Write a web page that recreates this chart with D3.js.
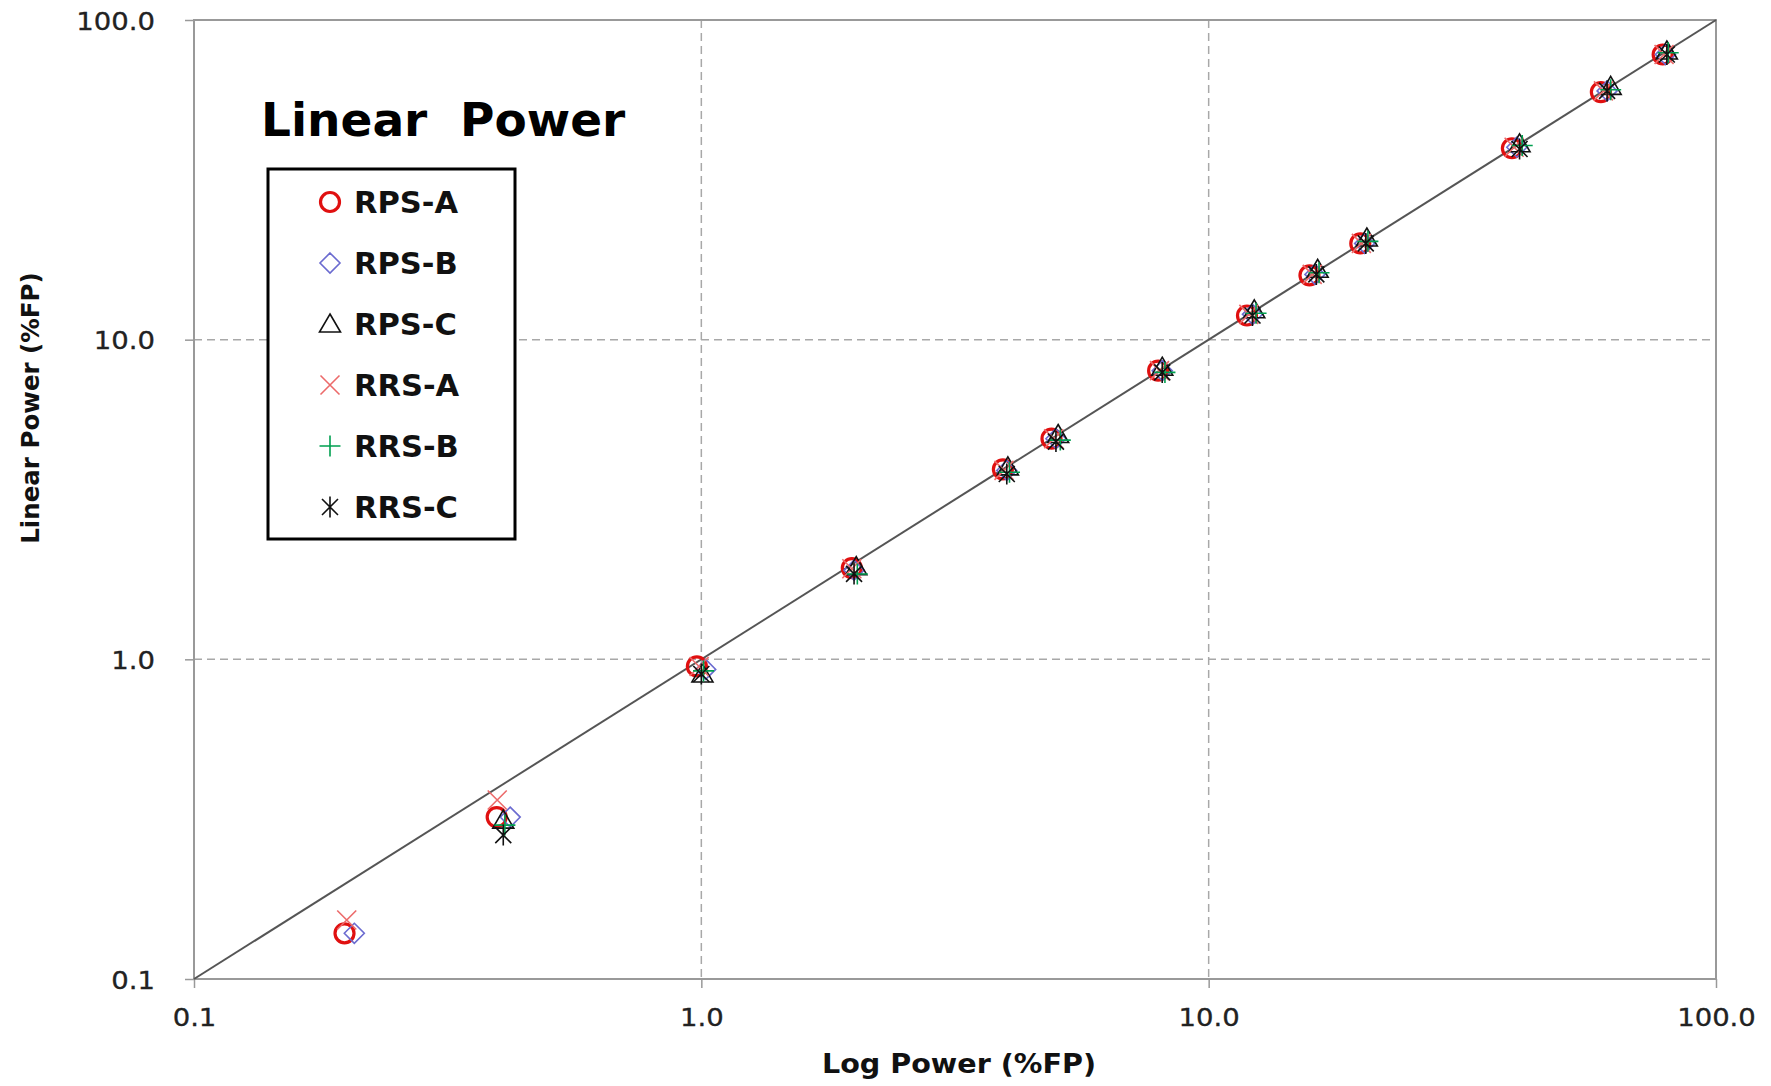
<!DOCTYPE html>
<html><head><meta charset="utf-8">
<script src="https://cdn.jsdelivr.net/npm/d3@7"></script>
<style>body{margin:0;background:#fff} svg{display:block}</style>
</head>
<body><svg id="c" width="1771" height="1086"></svg>
<script>
// ---------- data ----------
const seriesNames = ["RPS-A","RPS-B","RPS-C","RRS-A","RRS-B","RRS-C"];
// Log Power (%FP) per series
const rpsA_x = [0.198,0.395,0.980,1.98,3.93,4.90,7.95,11.9,15.8,19.9,39.6,59.3,78.5];
const rpsB_x = [0.207,0.420,1.020,2.00,4.00,5.00,8.10,12.2,16.2,20.3,40.5,61.0,79.5];
const rpsC_x = [null, 0.407,1.005,2.02,4.02,5.05,8.10,12.3,16.4,20.5,41.0,62.0,80.0];
const rrsA_x = [0.200,0.396,0.990,1.98,3.95,4.95,8.00,12.0,16.0,20.0,40.0,60.0,79.0];
const rrsB_x = [null, 0.410,1.010,2.03,4.05,5.10,8.20,12.4,16.5,20.6,41.5,62.0,80.5];
const rrsC_x = [null, 0.407,1.000,2.00,4.00,5.00,8.10,12.2,16.3,20.4,41.0,61.0,80.0];
// Linear Power (%FP) per series
const rpsA_y = [0.139,0.321,0.950,1.93,3.93,4.90,8.00,11.9,15.9,20.0,39.7,59.5,78.0];
const rpsB_y = [0.139,0.321,0.930,1.90,3.90,4.90,8.00,12.0,16.0,20.0,40.0,60.0,78.0];
const rpsC_y = [null, 0.314,0.900,1.95,4.00,5.05,8.20,12.4,16.6,20.8,41.0,62.0,80.0];
const rrsA_y = [0.153,0.363,0.950,1.92,3.90,4.90,8.00,12.0,16.0,20.0,40.0,60.0,78.0];
const rrsB_y = [null, 0.303,0.920,1.85,3.85,4.85,7.90,12.1,16.2,20.3,40.5,60.5,79.0];
const rrsC_y = [null, 0.282,0.900,1.85,3.80,4.80,7.90,11.9,16.0,20.0,39.5,60.0,78.0];
const xTicks = [0.1,1,10,100];
const yTicks = [0.1,1,10,100];
const xTickLabels = ["0.1","1.0","10.0","100.0"];
const yTickLabels = ["0.1","1.0","10.0","100.0"];
const gridValues = [1,10];
const diagLine = [0.1,100];
const titleText = "Linear  Power";
const xTitle = "Log Power (%FP)";
const yTitle = "Linear Power (%FP)";

// ---------- layout ----------
const L = 194, R = 1716, T = 20, B = 979;
const svg = d3.select("#c");
const x = d3.scaleLog().domain([0.1,100]).range([L,R]);
const y = d3.scaleLog().domain([0.1,100]).range([B,T]);
const font = "'DejaVu Sans', sans-serif";

// grid
const grid = svg.append("g").attr("stroke","#a8a8a8").attr("stroke-width",1.5).attr("stroke-dasharray","8,5");
grid.selectAll("line.v").data(gridValues).join("line").attr("class","v")
  .attr("x1",d=>x(d)).attr("x2",d=>x(d)).attr("y1",T).attr("y2",B);
grid.selectAll("line.h").data(gridValues).join("line").attr("class","h")
  .attr("y1",d=>y(d)).attr("y2",d=>y(d)).attr("x1",L).attr("x2",R);

// frame
svg.append("rect").attr("x",L).attr("y",T).attr("width",R-L).attr("height",B-T)
  .attr("fill","none").attr("stroke","#999").attr("stroke-width",2);

// axes
const xAxis = svg.append("g").attr("transform",`translate(0,${B})`)
  .call(d3.axisBottom(x).tickValues(xTicks).tickFormat((d,i)=>xTickLabels[i]).tickSizeInner(9).tickSizeOuter(0));
const yAxis = svg.append("g").attr("transform",`translate(${L},0)`)
  .call(d3.axisLeft(y).tickValues(yTicks).tickFormat((d,i)=>yTickLabels[i]).tickSizeInner(9).tickSizeOuter(0));
[xAxis,yAxis].forEach(a=>{
  a.select(".domain").remove();
  a.selectAll(".tick line").attr("stroke","#999").attr("stroke-width",1.5);
  a.selectAll(".tick text").attr("font-family",font).attr("font-size",25).attr("fill","#222")
    .attr("stroke","#222").attr("stroke-width",0.3);
});
xAxis.selectAll(".tick text").attr("y",0).attr("dy",0).attr("text-anchor","middle")
  .attr("transform","translate(0,47) scale(1.1,1)");
yAxis.selectAll(".tick text").attr("x",0).attr("dy","0.36em").attr("text-anchor","end")
  .attr("transform","translate(-39,0) scale(1.1,1)");

// diagonal
svg.append("line").attr("x1",x(diagLine[0])).attr("y1",y(diagLine[0]))
  .attr("x2",x(diagLine[1])).attr("y2",y(diagLine[1]))
  .attr("stroke","#555").attr("stroke-width",2);

// markers
const markers = {
  "RPS-A": {d: null, stroke:"#e01010", sw:3.2},
  "RPS-B": {d:"M0,-10L10,0L0,10L-10,0Z", stroke:"#6b6bd0", sw:1.6},
  "RPS-C": {d:"M0,-10L10.5,8L-10.5,8Z", stroke:"#111", sw:1.6},
  "RRS-A": {d:"M-9.5,-9.5L9.5,9.5M-9.5,9.5L9.5,-9.5", stroke:"#ec6a6a", sw:1.6},
  "RRS-B": {d:"M-10.5,0L10.5,0M0,-10.5L0,10.5", stroke:"#00a050", sw:1.6},
  "RRS-C": {d:"M-8,-8L8,8M-8,8L8,-8M0,-10.5L0,10.5", stroke:"#111", sw:1.6}
};
function drawMarker(g, name){
  const m = markers[name];
  if (m.d === null) g.append("circle").attr("r",9.5).attr("fill","none").attr("stroke",m.stroke).attr("stroke-width",m.sw);
  else g.append("path").attr("d",m.d).attr("fill","none").attr("stroke",m.stroke).attr("stroke-width",m.sw);
}
const seriesX = [rpsA_x,rpsB_x,rpsC_x,rrsA_x,rrsB_x,rrsC_x];
const seriesY = [rpsA_y,rpsB_y,rpsC_y,rrsA_y,rrsB_y,rrsC_y];
seriesNames.forEach((name,si)=>{
  const pts = seriesX[si].map((v,i)=>({x:v,y:seriesY[si][i]})).filter(p=>p.x!=null && p.y!=null);
  const g = svg.append("g");
  g.selectAll("g").data(pts).join("g")
    .attr("transform",p=>`translate(${x(p.x)},${y(p.y)})`)
    .each(function(){ drawMarker(d3.select(this), name); });
});

// title
svg.append("text").attr("x",261).attr("y",136).attr("font-family",font).attr("font-weight","bold")
  .attr("font-size",47).attr("fill","#000").style("white-space","pre").text(titleText);

// legend
const lg = svg.append("g");
lg.append("rect").attr("x",268).attr("y",169).attr("width",247).attr("height",370)
  .attr("fill","#fff").attr("stroke","#000").attr("stroke-width",3);
seriesNames.forEach((name,i)=>{
  const cy = 202 + i*61;
  const mg = lg.append("g").attr("transform",`translate(330,${cy})`);
  drawMarker(mg, name);
  lg.append("text").attr("x",354).attr("y",cy+11).attr("font-family",font).attr("font-weight","bold")
    .attr("font-size",30.5).attr("fill","#111").text(name);
});

// axis titles
svg.append("text").attr("transform","translate(959,1073) scale(1.1,1)").attr("text-anchor","middle")
  .attr("font-family",font).attr("font-weight","bold").attr("font-size",26).attr("fill","#111").text(xTitle);
svg.append("text").attr("transform","translate(39,408) rotate(-90)").attr("text-anchor","middle")
  .attr("font-family",font).attr("font-weight","bold").attr("font-size",24.5).attr("fill","#111").text(yTitle);
</script>
</body></html>
